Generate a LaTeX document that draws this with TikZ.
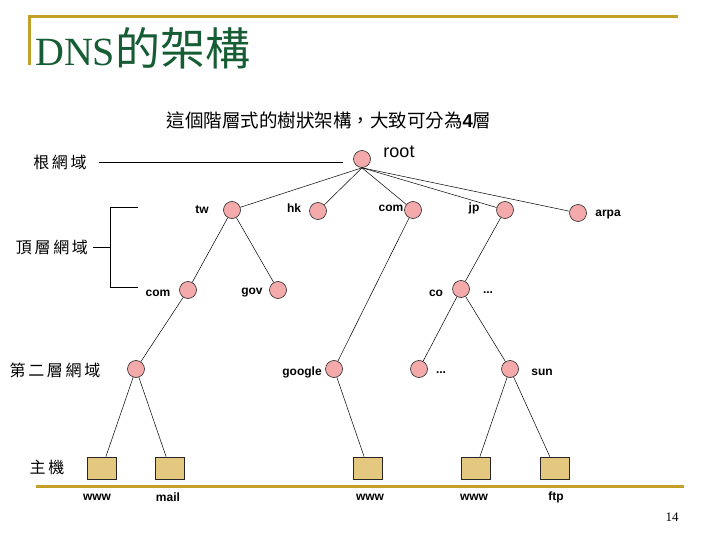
\documentclass[tikz,border=0pt]{standalone}
\usepackage{fontspec}
\setmainfont{Liberation Serif}
\newfontfamily\cjk{Noto Sans CJK TC}
\newfontfamily\arial{Liberation Sans}
\definecolor{gold}{RGB}{196,160,40}
\definecolor{tgreen}{RGB}{22,92,52}
\definecolor{pinkf}{RGB}{244,170,170}
\definecolor{tanf}{RGB}{228,200,128}
\tikzset{
  dn/.style={circle, draw=black!85, fill=pinkf, minimum size=17pt, inner sep=0pt, line width=0.6pt},
  hb/.style={rectangle, draw=black!85, fill=tanf, minimum width=29pt, minimum height=22pt, inner sep=0pt, line width=0.6pt},
  lb/.style={font=\arial\bfseries\fontsize{12}{12}\selectfont, inner sep=0pt},
  cl/.style={font=\cjk\fontsize{16}{16}\selectfont, inner sep=0pt},
  conn/.style={draw=black, line width=0.5pt},
  goldline/.style={draw=gold, line width=3pt}
}
\begin{document}
\begin{tikzpicture}[x=1pt,y=-1pt]
\useasboundingbox (0,0) rectangle (720,540);
% frame decoration
\coordinate (gtl) at (29,17);
\coordinate (gtr) at (678,17);
\coordinate (gbl) at (29,65);
\draw[goldline] (gbl) -- (gtl) -- (gtr);
\coordinate (bl) at (36,486);
\coordinate (br) at (684,486);
\draw[goldline] (bl) -- (br);
% title
\node[anchor=base west, inner sep=0pt, text=tgreen, font=\fontsize{40}{40}\selectfont] (title) at (35,66) {DNS{\cjk\fontsize{45}{45}\selectfont 的架構}};
\node[inner sep=0pt, font=\cjk\fontsize{18.5}{18.5}\selectfont] (sub) at (329,120) {這個階層式的樹狀架構，大致可分為{\arial\bfseries 4}層};
\node[inner sep=0pt, font=\fontsize{13}{13}\selectfont, anchor=base] (pg) at (672,521) {14};
% level labels
\node[cl] (l1) at (60,162) {根\,網\,域};
\node[cl] (l2) at (52,247) {頂\,層\,網\,域};
\node[cl] (l3) at (55,370) {第\,二\,層\,網\,域};
\node[cl] (l4) at (47,467) {主\,機};
\coordinate (l1e) at (343,162);
\draw[conn] ([xshift=12pt]l1.east) -- (l1e);
\coordinate (bt) at (110,207);
\coordinate (bb) at (110,287);
\coordinate (bm) at (110,247);
\coordinate (btr) at (138,207);
\coordinate (bbr) at (138,287);
\draw[conn] (btr) -- (bt) -- (bb) -- (bbr);
\draw[conn] ([xshift=5pt]l2.east) -- (bm);
% nodes
\node[dn] (root) at (362,159) {};
\node[dn] (tw) at (232,210) {};
\node[dn] (hk) at (318,211) {};
\node[dn] (comt) at (413,210) {};
\node[dn] (jp) at (505,210) {};
\node[dn] (arpa) at (578,213) {};
\node[dn] (com2) at (188,290) {};
\node[dn] (gov) at (278,290) {};
\node[dn] (co) at (461,289) {};
\node[dn] (sl) at (136,369) {};
\node[dn] (google) at (334,369) {};
\node[dn] (dd) at (419,369) {};
\node[dn] (sun) at (510,369) {};
\node[hb] (b1) at (102,468) {};
\node[hb] (b2) at (170,468) {};
\node[hb] (b3) at (368,468) {};
\node[hb] (b4) at (476,468) {};
\node[hb] (b5) at (555,468) {};
% labels
\node[inner sep=0pt, font=\arial\fontsize{18}{18}\selectfont] (troot) at (399,152) {root};
\node[lb] (ttw) at (202,210) {tw};
\node[lb] (thk) at (294,208) {hk};
\node[lb] (tcom) at (391,208) {com};
\node[lb] (tjp) at (474,208) {jp};
\node[lb] (tarpa) at (608,215) {arpa};
\node[lb] (tcom2) at (158,293) {com};
\node[lb] (tgov) at (252,293) {gov};
\node[lb] (tco) at (436,293) {co};
\node[lb] (tdots1) at (488,293) {...};
\node[lb] (tgoogle) at (302,372) {google};
\node[lb] (tdots2) at (441,373) {...};
\node[lb] (tsun) at (542,372) {sun};
\node[lb] (w1) at (97,497) {www};
\node[lb] (w2) at (168,497) {mail};
\node[lb] (w3) at (370,497) {www};
\node[lb] (w4) at (474,497) {www};
\node[lb] (w5) at (556,497) {ftp};
% edges
\foreach \c in {tw,hk,comt,jp,arpa} \draw[conn] (root.south) -- (\c);
\draw[conn] (tw) -- (com2);
\draw[conn] (tw) -- (gov);
\draw[conn] (comt) -- (google);
\draw[conn] (jp) -- (co);
\draw[conn] (com2) -- (sl);
\draw[conn] (co) -- (dd);
\draw[conn] (co) -- (sun);
\draw[conn] (sl) -- (b1);
\draw[conn] (sl) -- (b2);
\draw[conn] (google) -- (b3);
\draw[conn] (sun) -- (b4);
\draw[conn] (sun) -- (b5);
\end{tikzpicture}
\end{document}
